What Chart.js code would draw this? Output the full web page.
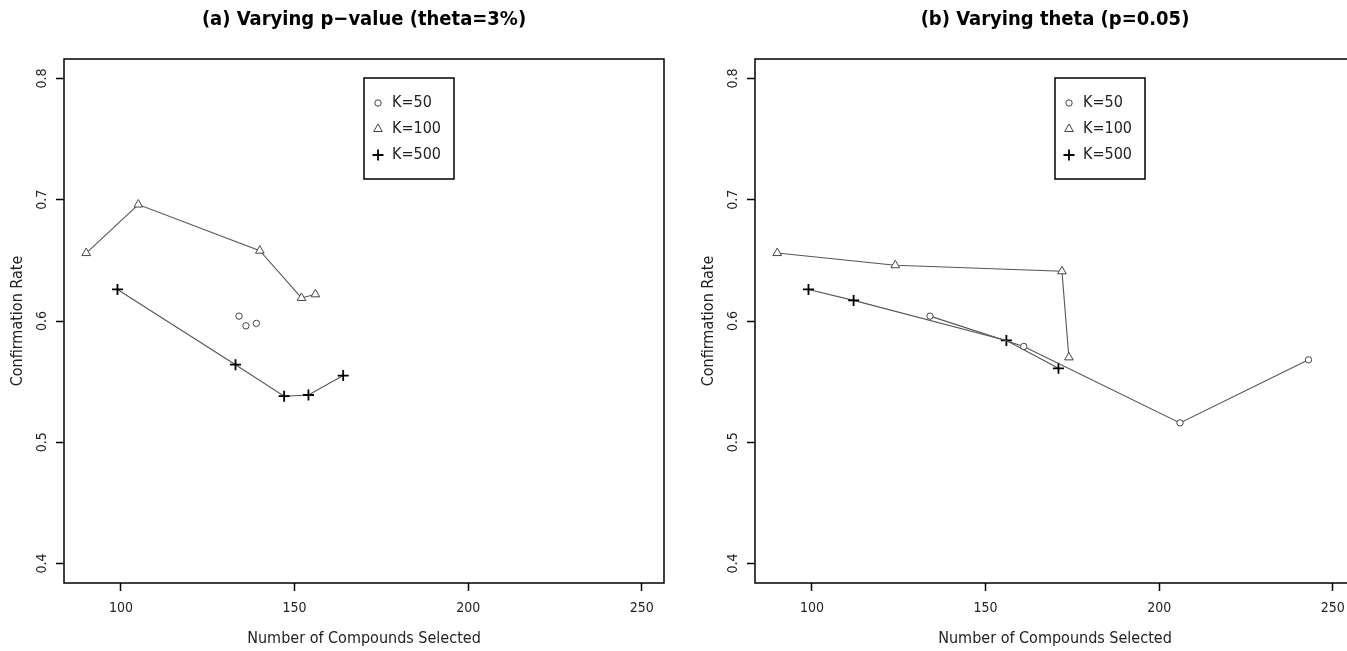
<!DOCTYPE html>
<html lang="en">
<head>
  <meta charset="UTF-8">
  <title>Confirmation Rate vs Number of Compounds Selected</title>
  <script src="https://cdn.jsdelivr.net/npm/chart.js"></script>
  <style>
    body { margin: 0; width: 1347px; height: 651px; overflow: hidden; background: #fff; position: relative; }
    canvas { position: absolute; top: 0; }
    #chartA { left: 0; }
    #chartB { left: 691px; }
  </style>
</head>
<body>
  <canvas id="chartA" width="690" height="651"></canvas>
  <canvas id="chartB" width="690" height="651"></canvas>

  <script>
    const xTicks = [100, 150, 200, 250];
    const yTicks = [0.4, 0.5, 0.6, 0.7, 0.8];
    const seriesLabels = ['K=50', 'K=100', 'K=500'];

    // (a) varying p-value, theta = 3%
    const aK50x = [134, 136, 139];
    const aK50y = [0.604, 0.596, 0.598];
    const aK100x = [90, 105, 140, 152, 156];
    const aK100y = [0.656, 0.696, 0.658, 0.619, 0.622];
    const aK500x = [99, 133, 147, 154, 164];
    const aK500y = [0.626, 0.564, 0.538, 0.539, 0.555];

    // (b) varying theta, p = 0.05
    const bK50x = [134, 161, 206, 243];
    const bK50y = [0.604, 0.579, 0.516, 0.568];
    const bK100x = [90, 124, 172, 174];
    const bK100y = [0.656, 0.646, 0.641, 0.570];
    const bK500x = [99, 112, 156, 171];
    const bK500y = [0.626, 0.617, 0.584, 0.561];

    const FONT = "'Liberation Sans Narrow', 'DejaVu Sans Condensed', 'Liberation Sans', sans-serif";

    // marker look per series
    const pointStyles = ['circle', 'triangle', 'cross'];
    const pointSizes = [3.2, 5, 5.5];
    const markColors = ['#444', '#444', '#000'];
    const markWidths = [1, 1, 1.8];
    const LINE = '#555';

    function toPoints(xs, ys) {
      return xs.map((x, i) => ({ x: x, y: ys[i] }));
    }

    // like R type="b": segments too short to clear the markers are left out
    function segColor(ctx) {
      const d = Math.hypot(ctx.p1.x - ctx.p0.x, ctx.p1.y - ctx.p0.y);
      return d < 14 ? 'rgba(0,0,0,0)' : LINE;
    }

    function makeDatasets(series) {
      return series.map((s, i) => ({
        label: seriesLabels[i],
        data: toPoints(s[0], s[1]),
        showLine: true,
        borderColor: LINE,
        borderWidth: 1.1,
        segment: { borderColor: segColor },
        pointStyle: pointStyles[i],
        pointRadius: pointSizes[i],
        pointBackgroundColor: '#fff',
        pointBorderColor: markColors[i],
        pointBorderWidth: markWidths[i]
      }));
    }

    // full frame round the plot region
    const frame = {
      id: 'frame',
      afterDraw(chart) {
        const { ctx, chartArea: a } = chart;
        ctx.save();
        ctx.strokeStyle = '#000';
        ctx.lineWidth = 1.5;
        ctx.strokeRect(a.left, a.top, a.right - a.left, a.bottom - a.top);
        ctx.restore();
      }
    };

    // legend box inside the plot
    const insetLegend = {
      id: 'insetLegend',
      afterDraw(chart) {
        const { ctx, chartArea } = chart;
        const x0 = chartArea.left + 300, y0 = 78, w = 90, h = 101;
        ctx.save();
        ctx.strokeStyle = '#000';
        ctx.lineWidth = 1.5;
        ctx.strokeRect(x0, y0, w, h);
        ctx.font = '16px ' + FONT;
        ctx.textBaseline = 'middle';
        chart.data.datasets.forEach((ds, i) => {
          const y = y0 + 25 + i * 26;
          ctx.fillStyle = '#fff';
          ctx.strokeStyle = ds.pointBorderColor;
          ctx.lineWidth = ds.pointBorderWidth;
          Chart.helpers.drawPoint(ctx, {
            pointStyle: ds.pointStyle, radius: ds.pointRadius,
            borderWidth: ds.pointBorderWidth, rotation: 0
          }, x0 + 14, y);
          ctx.fillStyle = '#222';
          ctx.fillText(ds.label, x0 + 28, y);
        });
        ctx.restore();
      }
    };

    function drawPanel(id, title, series) {
      new Chart(document.getElementById(id), {
        type: 'scatter',
        data: { datasets: makeDatasets(series) },
        options: {
          responsive: false,
          animation: false,
          devicePixelRatio: 1,
          layout: { padding: { left: 0, right: 26, top: 0, bottom: 0 } },
          plugins: {
            legend: { display: false },
            tooltip: { enabled: false },
            title: {
              display: true,
              text: title,
              fullSize: false,
              color: '#000',
              font: { family: FONT, size: 20, weight: 'bold' },
              padding: { top: 8, bottom: 27 }
            }
          },
          scales: {
            x: {
              type: 'linear',
              min: 83.6,
              max: 256.4,
              afterBuildTicks: s => { s.ticks = xTicks.map(v => ({ value: v })); },
              afterFit: s => { s.height = 68; },
              grid: { drawOnChartArea: false, tickLength: 8, tickColor: '#000', tickWidth: 1.5 },
              border: { display: false },
              ticks: {
                color: '#222', padding: 9, maxRotation: 0,
                font: { family: FONT, size: 14 },
                callback: v => String(v)
              },
              title: {
                display: true, text: 'Number of Compounds Selected', color: '#222',
                font: { family: FONT, size: 16 }, padding: { top: 0, bottom: 3 }
              }
            },
            y: {
              type: 'linear',
              min: 0.384,
              max: 0.816,
              afterBuildTicks: s => { s.ticks = yTicks.map(v => ({ value: v })); },
              afterFit: s => { s.width = 64; },
              grid: { drawOnChartArea: false, tickLength: 8, tickColor: '#000', tickWidth: 1.5 },
              border: { display: false },
              ticks: {
                color: '#222', padding: 4, minRotation: 90, maxRotation: 90,
                crossAlign: 'center',
                font: { family: FONT, size: 14 },
                callback: v => v.toFixed(1)
              },
              title: {
                display: true, text: 'Confirmation Rate', color: '#222',
                font: { family: FONT, size: 16 }, padding: { top: 8, bottom: 0 }
              }
            }
          }
        },
        plugins: [frame, insetLegend]
      });
    }

    drawPanel('chartA', '(a) Varying p\u2212value (theta=3%)',
      [[aK50x, aK50y], [aK100x, aK100y], [aK500x, aK500y]]);
    drawPanel('chartB', '(b) Varying theta (p=0.05)',
      [[bK50x, bK50y], [bK100x, bK100y], [bK500x, bK500y]]);
  </script>
</body>
</html>
